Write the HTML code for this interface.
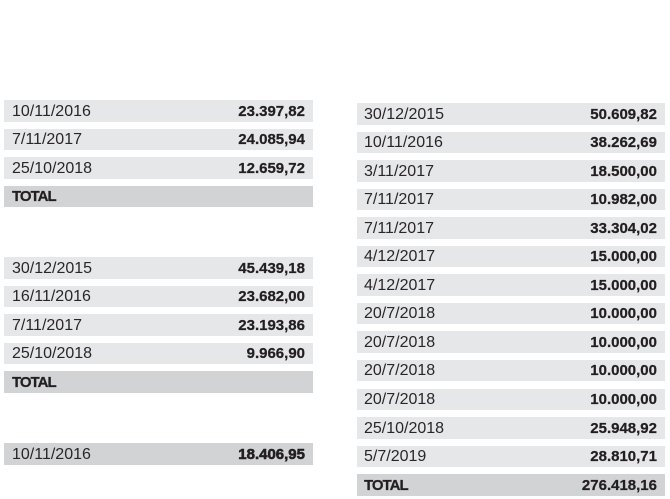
<!DOCTYPE html>
<html>
<head>
<meta charset="utf-8">
<style>
  html, body { margin:0; padding:0; background:#ffffff; }
  body { width:670px; height:499px; position:relative; overflow:hidden;
         font-family:"Liberation Sans", Arial, sans-serif; color:#231f20; }
  .r { position:absolute; height:21.5px; background:#e6e7e8; }
  .r.t { background:#d1d3d4; }
  .d { position:absolute; left:8px; top:0.5px; line-height:22px; font-size:16px; font-weight:normal; color:#2a2627; }
  .v { position:absolute; right:8px; top:0.5px; line-height:22px; font-size:15px; font-weight:bold; -webkit-text-stroke:0.25px #231f20; }
  .tl { position:absolute; left:8px; top:0.5px; line-height:22px; font-size:15px; font-weight:bold; letter-spacing:-1px; -webkit-text-stroke:0.25px #231f20; }
  .L { left:4px; width:309px; }
  .R { left:357px; width:308px; }
  .R .d, .R .tl { left:7px; }
  .xb { -webkit-text-stroke:0.6px #231f20; }
</style>
</head>
<body>
<!-- Left table 1 -->
<div class="r L" style="top:100px"><span class="d">10/11/2016</span><span class="v">23.397,82</span></div>
<div class="r L" style="top:128.6px"><span class="d">7/11/2017</span><span class="v">24.085,94</span></div>
<div class="r L" style="top:157.2px"><span class="d">25/10/2018</span><span class="v">12.659,72</span></div>
<div class="r L t" style="top:185.8px"><span class="tl">TOTAL</span></div>

<!-- Left table 2 -->
<div class="r L" style="top:257px"><span class="d">30/12/2015</span><span class="v">45.439,18</span></div>
<div class="r L" style="top:285.6px"><span class="d">16/11/2016</span><span class="v">23.682,00</span></div>
<div class="r L" style="top:314.2px"><span class="d">7/11/2017</span><span class="v">23.193,86</span></div>
<div class="r L" style="top:342.8px"><span class="d">25/10/2018</span><span class="v">9.966,90</span></div>
<div class="r L t" style="top:371.4px"><span class="tl">TOTAL</span></div>

<!-- Left table 3 -->
<div class="r L t" style="top:443px"><span class="d">10/11/2016</span><span class="v xb">18.406,95</span></div>

<!-- Right table -->
<div class="r R" style="top:103px"><span class="d">30/12/2015</span><span class="v">50.609,82</span></div>
<div class="r R" style="top:131.55px"><span class="d">10/11/2016</span><span class="v">38.262,69</span></div>
<div class="r R" style="top:160.1px"><span class="d">3/11/2017</span><span class="v">18.500,00</span></div>
<div class="r R" style="top:188.65px"><span class="d">7/11/2017</span><span class="v">10.982,00</span></div>
<div class="r R" style="top:217.2px"><span class="d">7/11/2017</span><span class="v">33.304,02</span></div>
<div class="r R" style="top:245.75px"><span class="d">4/12/2017</span><span class="v">15.000,00</span></div>
<div class="r R" style="top:274.3px"><span class="d">4/12/2017</span><span class="v">15.000,00</span></div>
<div class="r R" style="top:302.85px"><span class="d">20/7/2018</span><span class="v">10.000,00</span></div>
<div class="r R" style="top:331.4px"><span class="d">20/7/2018</span><span class="v">10.000,00</span></div>
<div class="r R" style="top:359.95px"><span class="d">20/7/2018</span><span class="v">10.000,00</span></div>
<div class="r R" style="top:388.5px"><span class="d">20/7/2018</span><span class="v">10.000,00</span></div>
<div class="r R" style="top:417.05px"><span class="d">25/10/2018</span><span class="v">25.948,92</span></div>
<div class="r R" style="top:445.6px"><span class="d">5/7/2019</span><span class="v">28.810,71</span></div>
<div class="r R t" style="top:474.15px"><span class="tl">TOTAL</span><span class="v">276.418,16</span></div>
</body>
</html>
